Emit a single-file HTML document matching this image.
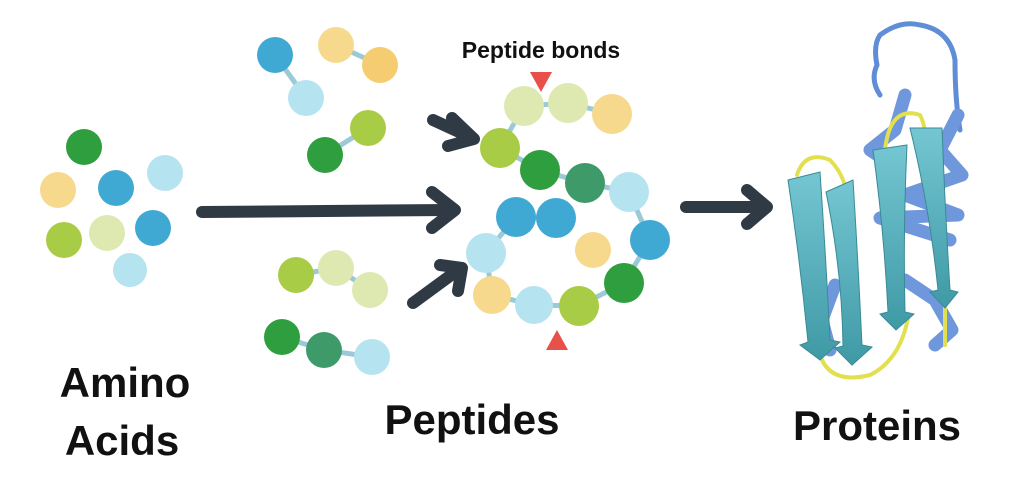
<!DOCTYPE html>
<html><head><style>
body{margin:0;background:#fff;}
svg{display:block}
text{font-family:"Liberation Sans",sans-serif;fill:#111}
</style></head><body>
<svg width="1024" height="494" viewBox="0 0 1024 494">
<defs>
<linearGradient id="st" x1="0" y1="0" x2="0" y2="1"><stop offset="0" stop-color="#74c6d2"/><stop offset="1" stop-color="#3f9aa6"/></linearGradient>
</defs>
<g stroke="#9cc9d6" stroke-width="5">
<line x1="275" y1="55" x2="306" y2="98"/><line x1="336" y1="45" x2="380" y2="65"/><line x1="368" y1="128" x2="325" y2="155"/>
<line x1="296" y1="275" x2="336" y2="268"/><line x1="336" y1="268" x2="370" y2="290"/>
<line x1="282" y1="337" x2="324" y2="350"/><line x1="324" y1="350" x2="372" y2="357"/>
<polyline fill="none" points="524,106 568,103 612,114"/>
<polyline fill="none" points="524,106 500,148 540,170 585,183 629,192 650,240 624,283 579,306 534,305 492,295 486,253 516,217 556,218"/>
</g>
<g>
<circle cx="84" cy="147" r="18" fill="#2e9e3e"/><circle cx="165" cy="173" r="18" fill="#b5e3ef"/>
<circle cx="58" cy="190" r="18" fill="#f6d98c"/><circle cx="116" cy="188" r="18" fill="#3fa9d3"/>
<circle cx="153" cy="228" r="18" fill="#3fa9d3"/><circle cx="64" cy="240" r="18" fill="#a8cc45"/>
<circle cx="107" cy="233" r="18" fill="#dde9b0"/><circle cx="130" cy="270" r="17" fill="#b5e3ef"/>
<circle cx="275" cy="55" r="18" fill="#3fa9d3"/><circle cx="306" cy="98" r="18" fill="#b5e3ef"/>
<circle cx="336" cy="45" r="18" fill="#f6d98c"/><circle cx="380" cy="65" r="18" fill="#f6cc70"/>
<circle cx="368" cy="128" r="18" fill="#a8cc45"/><circle cx="325" cy="155" r="18" fill="#2e9e3e"/>
<circle cx="296" cy="275" r="18" fill="#a8cc45"/><circle cx="336" cy="268" r="18" fill="#dde9b0"/><circle cx="370" cy="290" r="18" fill="#dde9b0"/>
<circle cx="282" cy="337" r="18" fill="#2e9e3e"/><circle cx="324" cy="350" r="18" fill="#3f9a6a"/><circle cx="372" cy="357" r="18" fill="#b5e3ef"/>
<circle cx="524" cy="106" r="20" fill="#dde9b0"/><circle cx="568" cy="103" r="20" fill="#dde9b0"/><circle cx="612" cy="114" r="20" fill="#f6d98c"/>
<circle cx="500" cy="148" r="20" fill="#a8cc45"/><circle cx="540" cy="170" r="20" fill="#2e9e3e"/><circle cx="585" cy="183" r="20" fill="#3f9a6a"/>
<circle cx="629" cy="192" r="20" fill="#b5e3ef"/><circle cx="516" cy="217" r="20" fill="#3fa9d3"/><circle cx="556" cy="218" r="20" fill="#3fa9d3"/>
<circle cx="593" cy="250" r="18" fill="#f6d98c"/><circle cx="650" cy="240" r="20" fill="#3fa9d3"/><circle cx="486" cy="253" r="20" fill="#b5e3ef"/>
<circle cx="624" cy="283" r="20" fill="#2e9e3e"/><circle cx="492" cy="295" r="19" fill="#f6d98c"/><circle cx="534" cy="305" r="19" fill="#b5e3ef"/>
<circle cx="579" cy="306" r="20" fill="#a8cc45"/>
</g>
<polygon points="530,72 552,72 541,92" fill="#e8504a"/>
<polygon points="546,350 568,350 557,330" fill="#e8504a"/>
<g stroke="#2f3a45" stroke-width="12" stroke-linecap="round" fill="none" stroke-linejoin="round">
<line x1="202" y1="212" x2="450" y2="210"/><polyline points="432,192 455,210 432,228"/>
<line x1="433" y1="120" x2="470" y2="137"/><polyline points="452,118 474,139 448,146"/>
<line x1="413" y1="303" x2="458" y2="270"/><polyline points="440,265 462,268 458,291"/>
<line x1="686" y1="207" x2="765" y2="207"/><polyline points="747,190 767,207 747,224"/>
</g>
<!-- protein -->
<g fill="none" stroke-linecap="round" stroke-linejoin="round">
<path d="M880 95 Q870 80 877 65 Q873 45 880 35 Q900 20 920 25 Q950 30 955 60 Q955 100 960 130" stroke="#5f8ed6" stroke-width="5"/>
<g stroke="#6f98dc" stroke-width="13">
<path d="M958 115 L940 150 L962 175 L905 195 L958 215 L880 218 L950 240"/>
<path d="M905 95 L895 130 L870 150 L900 170"/>
<path d="M905 280 L935 300 L952 330 L935 345"/>
<path d="M835 285 L822 320 L830 350"/>
</g>
<g stroke="#e2e04e" stroke-width="4">
<path d="M797 175 Q805 150 830 160 Q840 170 845 185"/>
<path d="M885 150 Q890 105 920 115 Q925 125 925 135"/>
<path d="M820 355 Q830 385 870 375 Q900 360 908 318"/>
<path d="M945 300 L945 345"/>
</g>
</g>
<g fill="url(#st)" stroke="#3a8a96" stroke-width="1">
<path d="M788 180 L820 172 Q826 260 830 340 L840 342 L820 360 L800 345 L808 342 Q800 260 788 180Z"/>
<path d="M826 192 L853 180 Q858 260 862 345 L872 347 L852 365 L835 348 L843 346 Q842 270 826 192Z"/>
<path d="M873 150 L907 145 Q903 230 905 312 L914 314 L896 330 L880 314 L888 312 Q884 230 873 150Z"/>
<path d="M910 128 L942 128 Q945 210 950 290 L958 292 L945 308 L930 292 L938 290 Q930 210 910 128Z"/>
</g>
<text x="541" y="58" font-size="23" font-weight="bold" text-anchor="middle">Peptide bonds</text>
<text x="125" y="397" font-size="42" font-weight="bold" text-anchor="middle">Amino</text>
<text x="122" y="455" font-size="42" font-weight="bold" text-anchor="middle">Acids</text>
<text x="472" y="434" font-size="42" font-weight="bold" text-anchor="middle">Peptides</text>
<text x="877" y="440" font-size="42" font-weight="bold" text-anchor="middle">Proteins</text>
</svg>
</body></html>
